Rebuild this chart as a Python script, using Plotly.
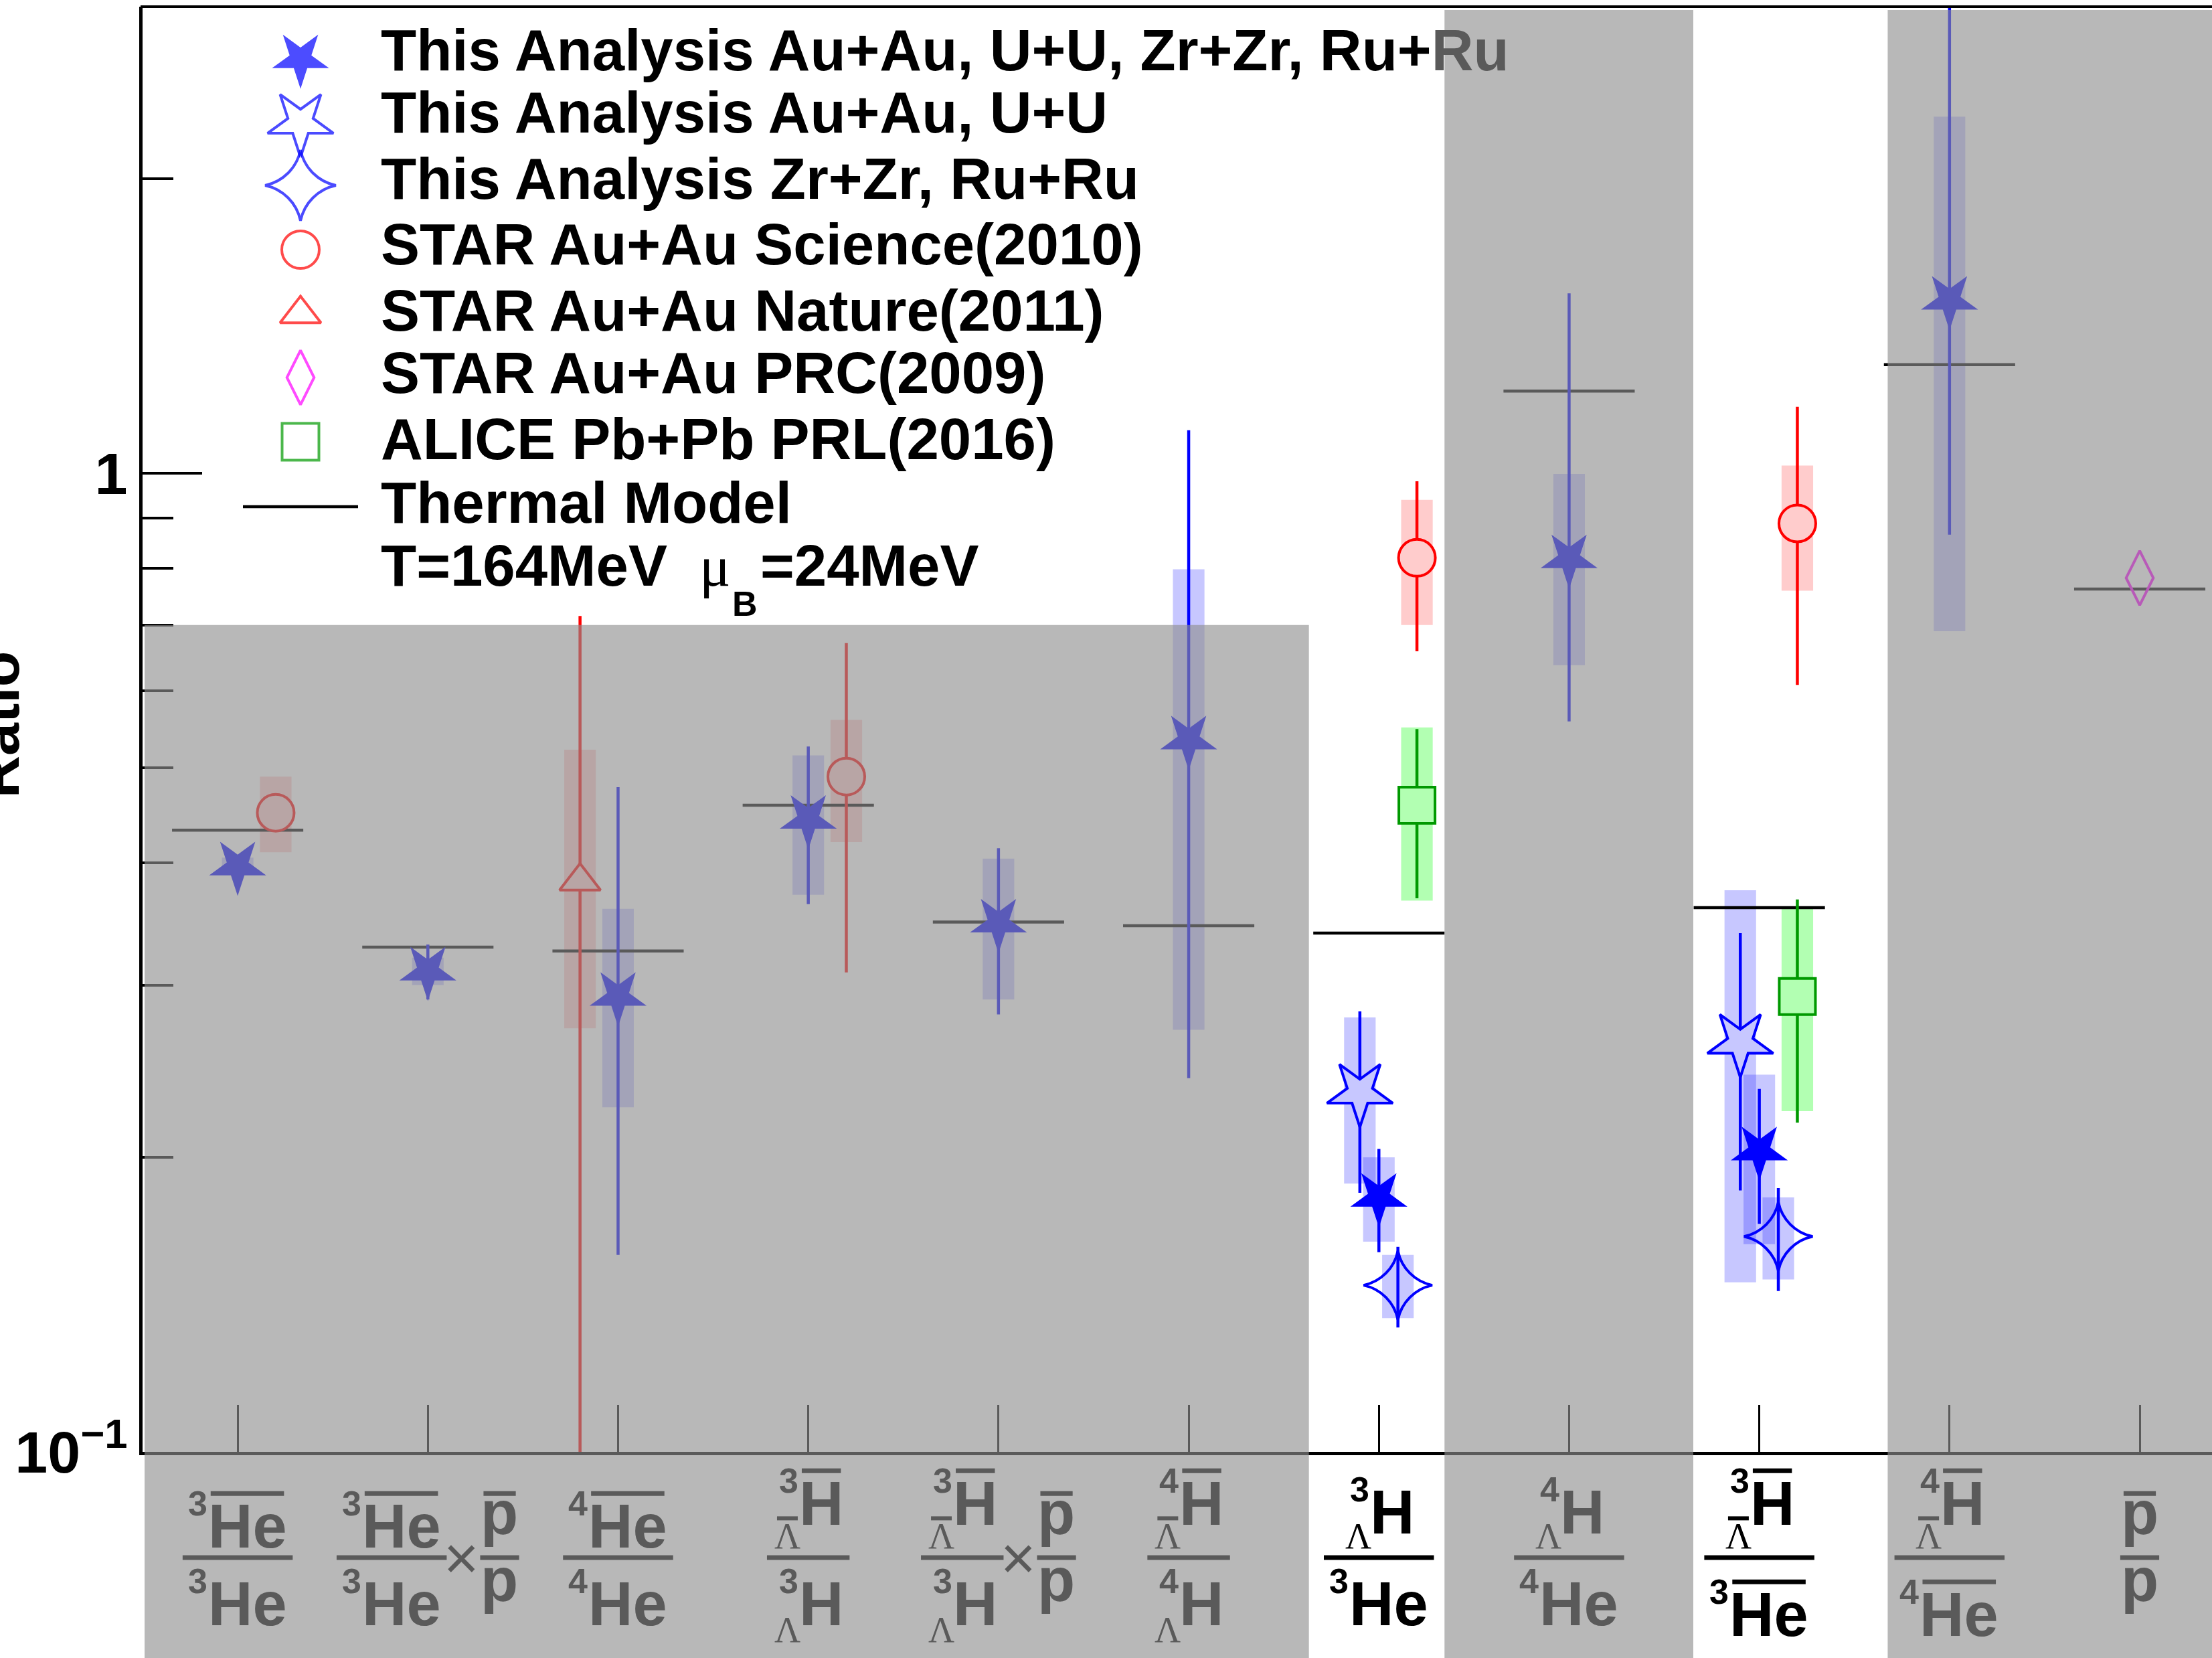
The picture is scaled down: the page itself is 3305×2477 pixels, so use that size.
import numpy as np
import plotly.graph_objects as go

# ---------------- canvas and axis frame ----------------
FIG_W, FIG_H = 3305, 2477
M_L, M_R, M_T, M_B = 213, 0, 10, 308
X_MIN, X_MAX = 0.5, 11.38
Y_MIN, Y_MAX = 0.1, 3.0
PW = FIG_W - M_L - M_R
PH = FIG_H - M_T - M_B

# ---------------- data ----------------
categories = list(range(1, 12))

# This analysis: Au+Au, U+U, Zr+Zr, Ru+Ru combined
comb_cat = [1, 2, 3, 4, 5, 6, 7, 8, 9, 10]
comb_val = [0.397, 0.310, 0.292, 0.443, 0.347, 0.534, 0.182, 0.818, 0.203, 1.503]
comb_stat_up = [0.009, 0.020, 0.186, 0.083, 0.067, 0.573, 0.022, 0.710, 0.032, 1.600]
comb_stat_dn = [0.009, 0.020, 0.133, 0.080, 0.067, 0.293, 0.022, 0.260, 0.032, 0.637]
comb_sys = [0.008, 0.010, 0.067, 0.072, 0.057, 0.264, 0.018, 0.181, 0.040, 0.813]

# This analysis: Au+Au, U+U
auu_cat = [7, 9]
auu_val = [0.233, 0.262]
auu_stat = [0.049, 0.077]
auu_sys = [0.045, 0.113]

# This analysis: Zr+Zr, Ru+Ru
iso_cat = [7, 9]
iso_val = [0.148, 0.166]
iso_stat = [0.014, 0.020]
iso_sys = [0.011, 0.016]

# STAR Au+Au Science (2010)
sci_cat = [1, 4, 7, 9]
sci_val = [0.450, 0.490, 0.820, 0.889]
sci_stat = [0.015, 0.181, 0.162, 0.281]
sci_sys = [0.040, 0.070, 0.120, 0.130]

# STAR Au+Au Nature (2011)
nat_cat = [3]
nat_val = [0.383]
nat_stat_up = [0.332]
nat_stat_dn = [0.330]
nat_sys_up = [0.139]
nat_sys_dn = [0.112]

# STAR Au+Au PRC (2009)
prc_cat = [11]
prc_val = [0.782]

# ALICE Pb+Pb PRL (2016)
alice_cat = [7, 9]
alice_val = [0.458, 0.292]
alice_stat = [0.090, 0.075]
alice_sys = [0.092, 0.069]

# Thermal model, T=164 MeV, mu_B=24 MeV
thermal_val = [0.432, 0.328, 0.325, 0.458, 0.348, 0.345, 0.339, 1.214, 0.360, 1.292, 0.762]

# Category labels: nuclide = (mass number, symbol, hypernucleus, antimatter)
ratio_num = [("3", "He", False, True), ("3", "He", False, True), ("4", "He", False, True),
             ("3", "H", True, True), ("3", "H", True, True), ("4", "H", True, True),
             ("3", "H", True, False), ("4", "H", True, False), ("3", "H", True, True),
             ("4", "H", True, True), ("", "p", False, True)]
ratio_den = [("3", "He", False, False), ("3", "He", False, False), ("4", "He", False, False),
             ("3", "H", True, False), ("3", "H", True, False), ("4", "H", True, False),
             ("3", "He", False, False), ("4", "He", False, False), ("3", "He", False, True),
             ("4", "He", False, True), ("", "p", False, False)]
ratio_times_pbar = [False, True, False, False, True, False, False, False, False, False, False]
label_highlight = [False, False, False, False, False, False, True, False, True, False, False]

legend_text = [
    "This Analysis Au+Au, U+U, Zr+Zr, Ru+<span style='color:rgb(90,90,90)'>Ru</span>",
    "This Analysis Au+Au, U+U",
    "This Analysis Zr+Zr, Ru+Ru",
    "STAR Au+Au Science(2010)",
    "STAR Au+Au Nature(2011)",
    "STAR Au+Au PRC(2009)",
    "ALICE Pb+Pb PRL(2016)",
    "Thermal Model",
]

# ---------------- styles ----------------
BLUE, RED, GREEN, MAGENTA = "#0000ff", "#ff0000", "#009900", "#ff00ff"
BLUE_SYS, RED_SYS, GREEN_SYS = "rgba(0,0,255,0.22)", "rgba(255,0,0,0.2)", "rgba(0,255,0,0.3)"
BLUE_FILL, RED_FILL, GREEN_FILL = "rgb(199,199,255)", "rgb(255,204,204)", "rgb(178,255,178)"
SHADE = "rgba(143,143,143,0.63)"
DIM = "rgb(90,90,90)"
SANS, SERIF = "Liberation Sans", "Liberation Serif"
SYS_HALF = 0.083
THERM_HALF = 0.345
ERR_W = 4.5


def pxx(px):
    return (px - M_L) / PW


def pxy(py):
    return (FIG_H - M_B - py) / PH


def dx2px(x):
    return M_L + (x - X_MIN) / (X_MAX - X_MIN) * PW


def dy2py(v):
    return FIG_H - M_B - (np.log10(v) - np.log10(Y_MIN)) / (np.log10(Y_MAX) - np.log10(Y_MIN)) * PH


def shift(cats, off):
    return [c + off for c in cats]


def sys_trace(xc, val, up, dn, color):
    xs, ys = [], []
    for x, v, u, d in zip(xc, val, up, dn):
        xs += [x - SYS_HALF, x + SYS_HALF, x + SYS_HALF, x - SYS_HALF, x - SYS_HALF, None]
        ys += [v - d, v - d, v + u, v + u, v - d, None]
    return go.Scatter(x=xs, y=ys, mode="lines", fill="toself", fillcolor=color,
                      line=dict(width=0), hoverinfo="skip", showlegend=False)


def point_trace(x, y, up, dn, symbol, size, fill, edge, lw, angle=0):
    err = dict(visible=False)
    if up is not None:
        err = dict(type="data", symmetric=False, array=up, arrayminus=dn,
                   width=0, thickness=ERR_W, color=edge)
    return go.Scatter(x=x, y=y, mode="markers",
                      marker=dict(symbol=symbol, size=size, color=fill, angle=angle,
                                  line=dict(color=edge, width=lw)),
                      error_y=err, hoverinfo="skip", showlegend=False)


fig = go.Figure()

# systematic boxes
fig.add_trace(sys_trace(shift(comb_cat, 0.0), comb_val, comb_sys, comb_sys, BLUE_SYS))
fig.add_trace(sys_trace(shift(auu_cat, -0.1), auu_val, auu_sys, auu_sys, BLUE_SYS))
fig.add_trace(sys_trace(shift(iso_cat, 0.1), iso_val, iso_sys, iso_sys, BLUE_SYS))
fig.add_trace(sys_trace(shift(sci_cat, 0.2), sci_val, sci_sys, sci_sys, RED_SYS))
fig.add_trace(sys_trace(shift(nat_cat, -0.2), nat_val, nat_sys_up, nat_sys_dn, RED_SYS))
fig.add_trace(sys_trace(shift(alice_cat, 0.2), alice_val, alice_sys, alice_sys, GREEN_SYS))

# thermal model segments
tx, ty = [], []
for c, v in zip(categories, thermal_val):
    tx += [c - THERM_HALF, c + THERM_HALF, None]
    ty += [v, v, None]
fig.add_trace(go.Scatter(x=tx, y=ty, mode="lines", line=dict(color="black", width=4.5),
                         hoverinfo="skip", showlegend=False))

# measured points with statistical errors
fig.add_trace(point_trace(shift(sci_cat, 0.2), sci_val, sci_stat, sci_stat,
                          "circle", 55, RED_FILL, RED, 4))
fig.add_trace(point_trace(shift(nat_cat, -0.2), nat_val, nat_stat_up, nat_stat_dn,
                          "triangle-up", 53, RED_FILL, RED, 4))
fig.add_trace(point_trace(shift(alice_cat, 0.2), alice_val, alice_stat, alice_stat,
                          "square", 54, GREEN_FILL, GREEN, 4))
fig.add_trace(point_trace(shift(prc_cat, 0.0), prc_val, None, None,
                          "diamond-tall-open", 58, MAGENTA, MAGENTA, 4))
fig.add_trace(point_trace(shift(auu_cat, -0.1), auu_val, auu_stat, auu_stat,
                          "star", 74, BLUE_FILL, BLUE, 4, angle=180))
fig.add_trace(point_trace(shift(iso_cat, 0.1), iso_val, iso_stat, iso_stat,
                          "star-square-open", 66, BLUE, BLUE, 4, angle=45))
fig.add_trace(point_trace(shift(comb_cat, 0.0), comb_val, comb_stat_up, comb_stat_dn,
                          "star", 64, BLUE, BLUE, 0, angle=180))

# legend symbols on a unit overlay frame
leg_sym_y = [88, 183, 277, 373, 469, 564, 660]
fig.add_trace(go.Scatter(
    x=[pxx(449)] * 7, y=[pxy(v) for v in leg_sym_y], mode="markers",
    xaxis="x2", yaxis="y2", hoverinfo="skip", showlegend=False,
    marker=dict(symbol=["star", "star", "star-square", "circle", "triangle-up", "diamond-tall", "square"],
                angle=[180, 180, 45, 0, 0, 0, 0],
                size=[64, 74, 68, 56, 53, 58, 55],
                color=[BLUE, "white", "white", "white", "white", "white", "white"],
                line=dict(color=[BLUE, BLUE, BLUE, RED, RED, MAGENTA, GREEN], width=[0, 4, 4, 4, 4, 4, 4]))))
fig.add_trace(go.Scatter(x=[pxx(363), pxx(535)], y=[pxy(757), pxy(757)], mode="lines",
                         xaxis="x2", yaxis="y2", line=dict(color="black", width=4.5),
                         hoverinfo="skip", showlegend=False))

# ---------------- shading, frame and text ----------------
shapes = []
annotations = []

band_bottom = -M_B / PH - 0.01
band_top_px = 15
bands = [(pxx(216), pxx(dx2px(6.632)), pxy(dy2py(0.7))),
         (pxx(dx2px(7.345)), pxx(dx2px(8.653)), pxy(band_top_px)),
         (pxx(dx2px(9.675)), 1.01, pxy(band_top_px))]
for x0, x1, y1 in bands:
    shapes.append(dict(type="rect", xref="paper", yref="paper", x0=x0, x1=x1, y0=band_bottom, y1=y1,
                       fillcolor=SHADE, line=dict(width=0), layer="above"))
shapes.append(dict(type="line", xref="paper", yref="paper", x0=pxx(210), x1=1.01, y0=1, y1=1,
                   line=dict(color="black", width=4), layer="above"))

ASC, DESC, SERIF_DESC = 0.905, 0.212, 0.216
CAP, XH = 0.716, 0.519
ADV = {"H": 0.722, "e": 0.556, "p": 0.611}
DIGIT = 0.556
LBL_FS, PRE_FS, LAM_FS = 92, 52, 54
LAM_ADV = 0.722


def text(x_px, base_px, s, size, family, anchor, color, bold=True, desc=DESC):
    annotations.append(dict(xref="paper", yref="paper", x=pxx(x_px), y=pxy(base_px + desc * size),
                            xanchor=anchor, yanchor="bottom", text=s, showarrow=False,
                            borderpad=0, borderwidth=0,
                            font=dict(family=family, size=size, color=color,
                                      weight="bold" if bold else "normal")))


def hbar(x0, x1, y, thick, color):
    shapes.append(dict(type="line", xref="paper", yref="paper", x0=pxx(x0), x1=pxx(x1),
                       y0=pxy(y), y1=pxy(y), line=dict(color=color, width=thick), layer="above"))


def nuc_width(nuc):
    a, sym, hyper, _ = nuc
    pre = len(a) * DIGIT * PRE_FS
    if hyper:
        pre = max(pre, LAM_ADV * LAM_FS)
    main = sum(ADV[ch] for ch in sym) * LBL_FS
    return pre + main, pre, main


def draw_nuclide(cx, nuc, role, color):
    a, sym, hyper, anti = nuc
    w, pre, main = nuc_width(nuc)
    mleft = cx - w / 2 + pre
    is_p = sym == "p"
    if role == "num":
        if is_p:
            base = 2291
        elif hyper:
            base = 2277 if anti else 2290
        else:
            base = 2311
        lam_base = 2313
    else:
        if is_p:
            base = 2391
        elif anti:
            base = 2443
        else:
            base = 2427
        lam_base = 2453
    top = base - (XH if is_p else CAP) * LBL_FS
    text(mleft, base, sym, LBL_FS, SANS, "left", color)
    if a:
        dig_top = top - 18
        text(mleft - 1, dig_top + CAP * PRE_FS, a, PRE_FS, SANS, "right", color)
    if hyper:
        text(mleft + 2, lam_base, "Λ", LAM_FS, SERIF, "right", color, bold=False, desc=SERIF_DESC)
    if anti:
        hbar(mleft + 4, mleft + main - 4, top - (12 if is_p else 14), 7, color)
        if hyper:
            lam_top = lam_base - 0.66 * LAM_FS
            hbar(mleft + 2 - LAM_ADV * LAM_FS + 4, mleft - 2, lam_top - 9, 6, color)


def frac_width(num, den):
    w = max(nuc_width(num)[0], nuc_width(den)[0])
    return w + (18 if (num[0] or den[0]) else 2)


def draw_frac(cx, num, den, color):
    bw = frac_width(num, den)
    draw_nuclide(cx, num, "num", color)
    draw_nuclide(cx, den, "den", color)
    hbar(cx - bw / 2, cx + bw / 2, 2327, 7, color)


PBAR = ("", "p", False, True)
PDEN = ("", "p", False, False)
for c, num, den, times_p, hl in zip(categories, ratio_num, ratio_den, ratio_times_pbar, label_highlight):
    color = "black" if hl else DIM
    cx = dx2px(c)
    if times_p:
        wa = frac_width(num, den)
        wp = frac_width(PBAR, PDEN)
        total = wa + 50 + wp
        left = cx - total / 2
        draw_frac(left + wa / 2, num, den, color)
        text(left + wa + 22, 2359, "×", 90, SANS, "center", color, bold=False)
        draw_frac(left + wa + 50 + wp / 2, PBAR, PDEN, color)
    else:
        draw_frac(cx, num, den, color)

# legend text
LEG_FS = 87
leg_base = [105, 198, 297, 395, 494, 587, 686, 781]
for s, b in zip(legend_text, leg_base):
    text(569, b, s, LEG_FS, SANS, "left", "black")
text(569, 875, "T=164MeV", LEG_FS, SANS, "left", "black")
text(1045, 875, "μ", LEG_FS, SERIF, "left", "black", bold=False, desc=SERIF_DESC)
text(1094, 920, "B", 52, SANS, "left", "black")
text(1136, 875, "=24MeV", LEG_FS, SANS, "left", "black")

# y-axis title
annotations.append(dict(xref="paper", yref="paper", x=pxx(46), y=pxy(1083), xanchor="right",
                        yanchor="middle", text="Ratio", textangle=-90, showarrow=False,
                        borderpad=0, borderwidth=0,
                        font=dict(family=SANS, size=88, color="black", weight="bold")))

fig.update_layout(
    width=FIG_W, height=FIG_H,
    margin=dict(l=M_L, r=M_R, t=M_T, b=M_B, pad=0),
    paper_bgcolor="white", plot_bgcolor="white", showlegend=False,
    xaxis=dict(range=[X_MIN, X_MAX], showline=True, linewidth=5, linecolor="black",
               ticks="inside", ticklen=70, tickwidth=3, tickcolor="black",
               tickvals=categories, showticklabels=False, showgrid=False, zeroline=False),
    yaxis=dict(type="log", range=[np.log10(Y_MIN), np.log10(Y_MAX)], showline=True, linewidth=5,
               linecolor="black", ticks="inside", ticklen=89, tickwidth=4, tickcolor="black",
               tickvals=[0.1, 1], ticktext=["10<sup>−1</sup>", "1"], ticklabelstandoff=0,
               tickfont=dict(family=SANS, size=88, color="black", weight="bold"),
               minor=dict(ticks="inside", ticklen=46, tickwidth=4, tickcolor="black",
                          tickvals=[0.2, 0.3, 0.4, 0.5, 0.6, 0.7, 0.8, 0.9, 2]),
               showgrid=False, zeroline=False),
    xaxis2=dict(overlaying="x", anchor="y2", range=[0, 1], visible=False),
    yaxis2=dict(overlaying="y", anchor="x2", range=[0, 1], visible=False),
    shapes=shapes,
    annotations=annotations,
)

fig.write_html("out.html")
